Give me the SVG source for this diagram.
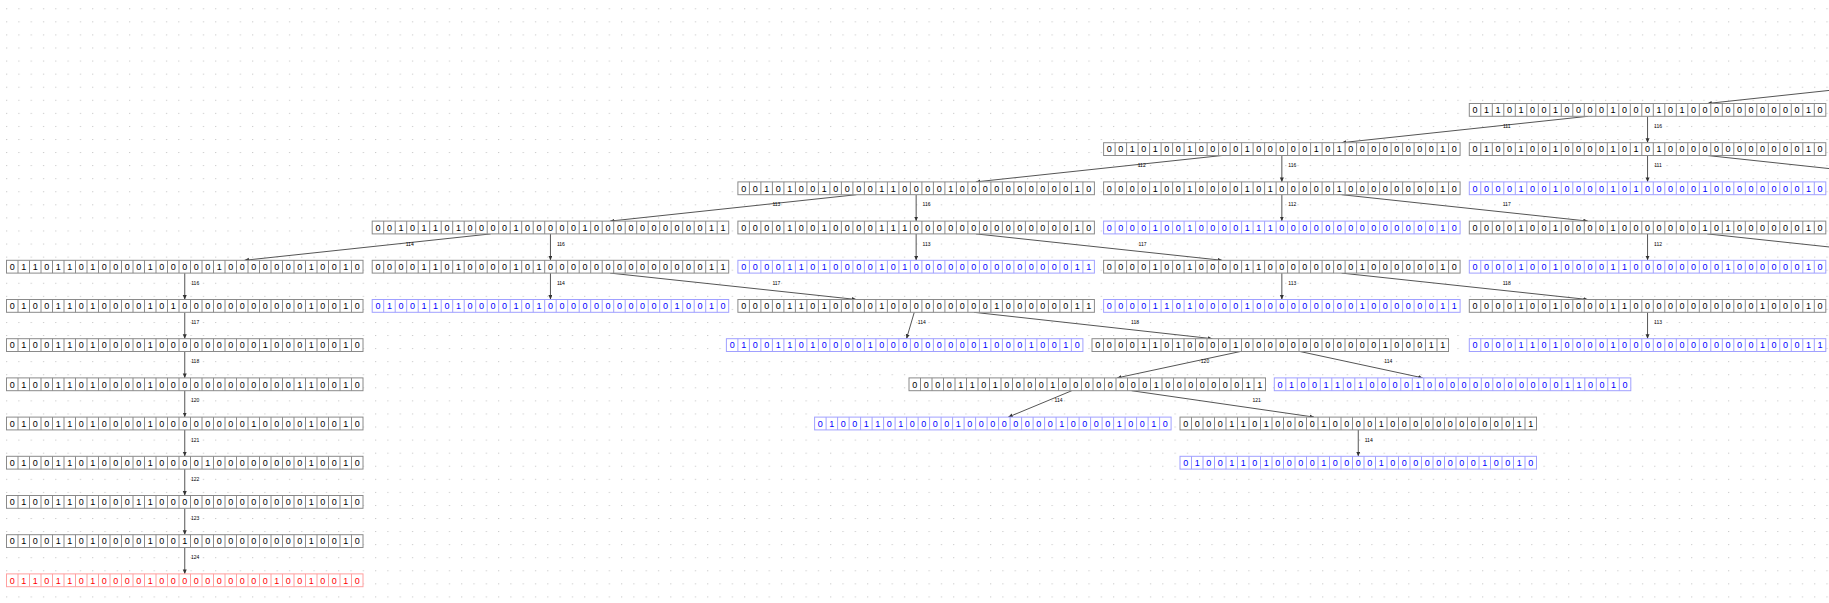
<svg xmlns="http://www.w3.org/2000/svg" xmlns:xlink="http://www.w3.org/1999/xlink" width="1829" height="603" viewBox="0 0 1829 603">
<style>
.n rect{fill:#fff;stroke-width:1}
.n use{fill:none;stroke-width:1}
.k rect,.k use{stroke:#8a8a8a}
.b rect,.b use{stroke:#a0a0ff}
.r rect,.r use{stroke:#ffa0a0}
.n text{font-family:"Liberation Sans",Arial,sans-serif;font-size:9px;text-anchor:middle}
.k text{fill:#000}.b text{fill:#0000ff}.r text{fill:#ff0000}
.e line{stroke:#555;stroke-width:1;marker-end:url(#ah)}
.l{font-family:"Liberation Sans",Arial,sans-serif;font-size:5px;text-anchor:middle;fill:#000}
</style>
<defs>
<pattern id="dots" x="6" y="8.3" width="12.3" height="13.07" patternUnits="userSpaceOnUse"><rect width="1.2" height="1" fill="#c8c8c8"/></pattern>
<path id="sep" d="M11.5 0v12.8M23 0v12.8M34.5 0v12.8M46 0v12.8M57.5 0v12.8M69 0v12.8M80.5 0v12.8M92 0v12.8M103.5 0v12.8M115 0v12.8M126.5 0v12.8M138 0v12.8M149.5 0v12.8M161 0v12.8M172.5 0v12.8M184 0v12.8M195.5 0v12.8M207 0v12.8M218.5 0v12.8M230 0v12.8M241.5 0v12.8M253 0v12.8M264.5 0v12.8M276 0v12.8M287.5 0v12.8M299 0v12.8M310.5 0v12.8M322 0v12.8M333.5 0v12.8M345 0v12.8"/>
<marker id="ah" markerUnits="userSpaceOnUse" markerWidth="6" markerHeight="5" refX="4.5" refY="2" orient="auto"><path d="M0 0L4.5 2L0 4z" fill="#333"/></marker>
</defs>
<rect width="1829" height="603" fill="#fff"/>
<rect width="1829" height="603" fill="url(#dots)"/>

<g id="edges" class="e">
<line x1="1953.54" y1="77.1" x2="1707.26" y2="103.5"/>
<line x1="1587.84" y1="116.3" x2="1341.56" y2="142.7"/>
<line x1="1647.55" y1="116.3" x2="1647.55" y2="142.7"/>
<line x1="1647.55" y1="155.5" x2="1647.55" y2="181.9"/>
<line x1="1707.26" y1="155.5" x2="1953.54" y2="181.9"/>
<line x1="1222.14" y1="155.5" x2="975.86" y2="181.9"/>
<line x1="1281.85" y1="155.5" x2="1281.85" y2="181.9"/>
<line x1="856.44" y1="194.7" x2="610.16" y2="221.1"/>
<line x1="916.15" y1="194.7" x2="916.15" y2="221.1"/>
<line x1="1281.85" y1="194.7" x2="1281.85" y2="221.1"/>
<line x1="1341.56" y1="194.7" x2="1587.84" y2="221.1"/>
<line x1="490.74" y1="233.9" x2="244.46" y2="260.3"/>
<line x1="550.45" y1="233.9" x2="550.45" y2="260.3"/>
<line x1="916.15" y1="233.9" x2="916.15" y2="260.3"/>
<line x1="975.86" y1="233.9" x2="1222.14" y2="260.3"/>
<line x1="1647.55" y1="233.9" x2="1647.55" y2="260.3"/>
<line x1="1707.26" y1="233.9" x2="1953.54" y2="260.3"/>
<line x1="184.75" y1="273.1" x2="184.75" y2="299.5"/>
<line x1="550.45" y1="273.1" x2="550.45" y2="299.5"/>
<line x1="610.16" y1="273.1" x2="856.44" y2="299.5"/>
<line x1="1281.85" y1="273.1" x2="1281.85" y2="299.5"/>
<line x1="1341.56" y1="273.1" x2="1587.84" y2="299.5"/>
<line x1="184.75" y1="312.3" x2="184.75" y2="338.7"/>
<line x1="914.27" y1="312.3" x2="906.53" y2="338.7"/>
<line x1="973.96" y1="312.3" x2="1212.44" y2="338.7"/>
<line x1="1647.55" y1="312.3" x2="1647.55" y2="338.7"/>
<line x1="184.75" y1="351.5" x2="184.75" y2="377.9"/>
<line x1="1240.37" y1="351.5" x2="1117.13" y2="377.9"/>
<line x1="1300.01" y1="351.5" x2="1422.79" y2="377.9"/>
<line x1="184.75" y1="390.7" x2="184.75" y2="417.1"/>
<line x1="1071.84" y1="390.7" x2="1008.26" y2="417.1"/>
<line x1="1131.5" y1="390.7" x2="1314" y2="417.1"/>
<line x1="184.75" y1="429.9" x2="184.75" y2="456.3"/>
<line x1="1358.25" y1="429.9" x2="1358.25" y2="456.3"/>
<line x1="184.75" y1="469.1" x2="184.75" y2="495.5"/>
<line x1="184.75" y1="508.3" x2="184.75" y2="534.7"/>
<line x1="184.75" y1="547.5" x2="184.75" y2="573.9"/>
</g>
<g id="edge-labels" class="l">
<text x="1506.7" y="128">111</text>
<text x="1658" y="128">116</text>
<text x="1658" y="167.2">111</text>
<text x="1141.7" y="167.2">112</text>
<text x="1292.3" y="167.2">116</text>
<text x="776.4" y="206.4">113</text>
<text x="926.6" y="206.4">116</text>
<text x="1292.3" y="206.4">112</text>
<text x="1506.7" y="206.4">117</text>
<text x="409.7" y="245.6">114</text>
<text x="560.9" y="245.6">116</text>
<text x="926.6" y="245.6">113</text>
<text x="1142.5" y="245.6">117</text>
<text x="1658" y="245.6">112</text>
<text x="195.2" y="284.8">116</text>
<text x="560.9" y="284.8">114</text>
<text x="776.4" y="284.8">117</text>
<text x="1292.3" y="284.8">113</text>
<text x="1506.7" y="284.8">118</text>
<text x="195.2" y="324">117</text>
<text x="921.8" y="324">114</text>
<text x="1135" y="324">118</text>
<text x="1658" y="324">113</text>
<text x="195.2" y="363.2">118</text>
<text x="1205" y="363.2">120</text>
<text x="1388.3" y="363.2">114</text>
<text x="195.2" y="402.4">120</text>
<text x="1058.6" y="402.4">114</text>
<text x="1256.7" y="402.4">121</text>
<text x="195.2" y="441.6">121</text>
<text x="1368.7" y="441.6">114</text>
<text x="195.2" y="480.8">122</text>
<text x="195.2" y="520">123</text>
<text x="195.2" y="559.2">124</text>
</g>

<g id="N0" class="n k" transform="translate(1469.3 103.5)"><rect width="356.5" height="12.8"/><use href="#sep" xlink:href="#sep"/><text y="9.7" x="5.75 17.25 28.75 40.25 51.75 63.25 74.75 86.25 97.75 109.25 120.75 132.25 143.75 155.25 166.75 178.25 189.75 201.25 212.75 224.25 235.75 247.25 258.75 270.25 281.75 293.25 304.75 316.25 327.75 339.25 350.75">0110100100001000101000000000010</text></g>
<g id="N1a" class="n k" transform="translate(1103.6 142.7)"><rect width="356.5" height="12.8"/><use href="#sep" xlink:href="#sep"/><text y="9.7" x="5.75 17.25 28.75 40.25 51.75 63.25 74.75 86.25 97.75 109.25 120.75 132.25 143.75 155.25 166.75 178.25 189.75 201.25 212.75 224.25 235.75 247.25 258.75 270.25 281.75 293.25 304.75 316.25 327.75 339.25 350.75">0010100100001000001010000000010</text></g>
<g id="N1b" class="n k" transform="translate(1469.3 142.7)"><rect width="356.5" height="12.8"/><use href="#sep" xlink:href="#sep"/><text y="9.7" x="5.75 17.25 28.75 40.25 51.75 63.25 74.75 86.25 97.75 109.25 120.75 132.25 143.75 155.25 166.75 178.25 189.75 201.25 212.75 224.25 235.75 247.25 258.75 270.25 281.75 293.25 304.75 316.25 327.75 339.25 350.75">0100100100001010100000000000010</text></g>
<g id="N2a" class="n k" transform="translate(737.9 181.9)"><rect width="356.5" height="12.8"/><use href="#sep" xlink:href="#sep"/><text y="9.7" x="5.75 17.25 28.75 40.25 51.75 63.25 74.75 86.25 97.75 109.25 120.75 132.25 143.75 155.25 166.75 178.25 189.75 201.25 212.75 224.25 235.75 247.25 258.75 270.25 281.75 293.25 304.75 316.25 327.75 339.25 350.75">0010100100001100001000000000010</text></g>
<g id="N2b" class="n k" transform="translate(1103.6 181.9)"><rect width="356.5" height="12.8"/><use href="#sep" xlink:href="#sep"/><text y="9.7" x="5.75 17.25 28.75 40.25 51.75 63.25 74.75 86.25 97.75 109.25 120.75 132.25 143.75 155.25 166.75 178.25 189.75 201.25 212.75 224.25 235.75 247.25 258.75 270.25 281.75 293.25 304.75 316.25 327.75 339.25 350.75">0000100100001010000010000000010</text></g>
<g id="N2c" class="n b" transform="translate(1469.3 181.9)"><rect width="356.5" height="12.8"/><use href="#sep" xlink:href="#sep"/><text y="9.7" x="5.75 17.25 28.75 40.25 51.75 63.25 74.75 86.25 97.75 109.25 120.75 132.25 143.75 155.25 166.75 178.25 189.75 201.25 212.75 224.25 235.75 247.25 258.75 270.25 281.75 293.25 304.75 316.25 327.75 339.25 350.75">0000100100001010000010000000010</text></g>
<g id="N3a" class="n k" transform="translate(372.2 221.1)"><rect width="356.5" height="12.8"/><use href="#sep" xlink:href="#sep"/><text y="9.7" x="5.75 17.25 28.75 40.25 51.75 63.25 74.75 86.25 97.75 109.25 120.75 132.25 143.75 155.25 166.75 178.25 189.75 201.25 212.75 224.25 235.75 247.25 258.75 270.25 281.75 293.25 304.75 316.25 327.75 339.25 350.75">0010110100001000001000000000011</text></g>
<g id="N3b" class="n k" transform="translate(737.9 221.1)"><rect width="356.5" height="12.8"/><use href="#sep" xlink:href="#sep"/><text y="9.7" x="5.75 17.25 28.75 40.25 51.75 63.25 74.75 86.25 97.75 109.25 120.75 132.25 143.75 155.25 166.75 178.25 189.75 201.25 212.75 224.25 235.75 247.25 258.75 270.25 281.75 293.25 304.75 316.25 327.75 339.25 350.75">0000100100001110000000000000010</text></g>
<g id="N3c" class="n b" transform="translate(1103.6 221.1)"><rect width="356.5" height="12.8"/><use href="#sep" xlink:href="#sep"/><text y="9.7" x="5.75 17.25 28.75 40.25 51.75 63.25 74.75 86.25 97.75 109.25 120.75 132.25 143.75 155.25 166.75 178.25 189.75 201.25 212.75 224.25 235.75 247.25 258.75 270.25 281.75 293.25 304.75 316.25 327.75 339.25 350.75">0000100100001110000000000000010</text></g>
<g id="N3d" class="n k" transform="translate(1469.3 221.1)"><rect width="356.5" height="12.8"/><use href="#sep" xlink:href="#sep"/><text y="9.7" x="5.75 17.25 28.75 40.25 51.75 63.25 74.75 86.25 97.75 109.25 120.75 132.25 143.75 155.25 166.75 178.25 189.75 201.25 212.75 224.25 235.75 247.25 258.75 270.25 281.75 293.25 304.75 316.25 327.75 339.25 350.75">0000100100001000000010100000010</text></g>
<g id="N4a" class="n k" transform="translate(6.5 260.3)"><rect width="356.5" height="12.8"/><use href="#sep" xlink:href="#sep"/><text y="9.7" x="5.75 17.25 28.75 40.25 51.75 63.25 74.75 86.25 97.75 109.25 120.75 132.25 143.75 155.25 166.75 178.25 189.75 201.25 212.75 224.25 235.75 247.25 258.75 270.25 281.75 293.25 304.75 316.25 327.75 339.25 350.75">0110110100001000001000000010010</text></g>
<g id="N4b" class="n k" transform="translate(372.2 260.3)"><rect width="356.5" height="12.8"/><use href="#sep" xlink:href="#sep"/><text y="9.7" x="5.75 17.25 28.75 40.25 51.75 63.25 74.75 86.25 97.75 109.25 120.75 132.25 143.75 155.25 166.75 178.25 189.75 201.25 212.75 224.25 235.75 247.25 258.75 270.25 281.75 293.25 304.75 316.25 327.75 339.25 350.75">0000110100001010000000000000011</text></g>
<g id="N4c" class="n b" transform="translate(737.9 260.3)"><rect width="356.5" height="12.8"/><use href="#sep" xlink:href="#sep"/><text y="9.7" x="5.75 17.25 28.75 40.25 51.75 63.25 74.75 86.25 97.75 109.25 120.75 132.25 143.75 155.25 166.75 178.25 189.75 201.25 212.75 224.25 235.75 247.25 258.75 270.25 281.75 293.25 304.75 316.25 327.75 339.25 350.75">0000110100001010000000000000011</text></g>
<g id="N4d" class="n k" transform="translate(1103.6 260.3)"><rect width="356.5" height="12.8"/><use href="#sep" xlink:href="#sep"/><text y="9.7" x="5.75 17.25 28.75 40.25 51.75 63.25 74.75 86.25 97.75 109.25 120.75 132.25 143.75 155.25 166.75 178.25 189.75 201.25 212.75 224.25 235.75 247.25 258.75 270.25 281.75 293.25 304.75 316.25 327.75 339.25 350.75">0000100100001100000000100000010</text></g>
<g id="N4e" class="n b" transform="translate(1469.3 260.3)"><rect width="356.5" height="12.8"/><use href="#sep" xlink:href="#sep"/><text y="9.7" x="5.75 17.25 28.75 40.25 51.75 63.25 74.75 86.25 97.75 109.25 120.75 132.25 143.75 155.25 166.75 178.25 189.75 201.25 212.75 224.25 235.75 247.25 258.75 270.25 281.75 293.25 304.75 316.25 327.75 339.25 350.75">0000100100001100000000100000010</text></g>
<g id="N5a" class="n k" transform="translate(6.5 299.5)"><rect width="356.5" height="12.8"/><use href="#sep" xlink:href="#sep"/><text y="9.7" x="5.75 17.25 28.75 40.25 51.75 63.25 74.75 86.25 97.75 109.25 120.75 132.25 143.75 155.25 166.75 178.25 189.75 201.25 212.75 224.25 235.75 247.25 258.75 270.25 281.75 293.25 304.75 316.25 327.75 339.25 350.75">0100110100001010000000000010010</text></g>
<g id="N5b" class="n b" transform="translate(372.2 299.5)"><rect width="356.5" height="12.8"/><use href="#sep" xlink:href="#sep"/><text y="9.7" x="5.75 17.25 28.75 40.25 51.75 63.25 74.75 86.25 97.75 109.25 120.75 132.25 143.75 155.25 166.75 178.25 189.75 201.25 212.75 224.25 235.75 247.25 258.75 270.25 281.75 293.25 304.75 316.25 327.75 339.25 350.75">0100110100001010000000000010010</text></g>
<g id="N5c" class="n k" transform="translate(737.9 299.5)"><rect width="356.5" height="12.8"/><use href="#sep" xlink:href="#sep"/><text y="9.7" x="5.75 17.25 28.75 40.25 51.75 63.25 74.75 86.25 97.75 109.25 120.75 132.25 143.75 155.25 166.75 178.25 189.75 201.25 212.75 224.25 235.75 247.25 258.75 270.25 281.75 293.25 304.75 316.25 327.75 339.25 350.75">0000110100001000000000100000011</text></g>
<g id="N5d" class="n b" transform="translate(1103.6 299.5)"><rect width="356.5" height="12.8"/><use href="#sep" xlink:href="#sep"/><text y="9.7" x="5.75 17.25 28.75 40.25 51.75 63.25 74.75 86.25 97.75 109.25 120.75 132.25 143.75 155.25 166.75 178.25 189.75 201.25 212.75 224.25 235.75 247.25 258.75 270.25 281.75 293.25 304.75 316.25 327.75 339.25 350.75">0000110100001000000000100000011</text></g>
<g id="N5e" class="n k" transform="translate(1469.3 299.5)"><rect width="356.5" height="12.8"/><use href="#sep" xlink:href="#sep"/><text y="9.7" x="5.75 17.25 28.75 40.25 51.75 63.25 74.75 86.25 97.75 109.25 120.75 132.25 143.75 155.25 166.75 178.25 189.75 201.25 212.75 224.25 235.75 247.25 258.75 270.25 281.75 293.25 304.75 316.25 327.75 339.25 350.75">0000100100001100000000000100010</text></g>
<g id="N6a" class="n k" transform="translate(6.5 338.7)"><rect width="356.5" height="12.8"/><use href="#sep" xlink:href="#sep"/><text y="9.7" x="5.75 17.25 28.75 40.25 51.75 63.25 74.75 86.25 97.75 109.25 120.75 132.25 143.75 155.25 166.75 178.25 189.75 201.25 212.75 224.25 235.75 247.25 258.75 270.25 281.75 293.25 304.75 316.25 327.75 339.25 350.75">0100110100001000000000100010010</text></g>
<g id="N6b" class="n b" transform="translate(726.4 338.7)"><rect width="356.5" height="12.8"/><use href="#sep" xlink:href="#sep"/><text y="9.7" x="5.75 17.25 28.75 40.25 51.75 63.25 74.75 86.25 97.75 109.25 120.75 132.25 143.75 155.25 166.75 178.25 189.75 201.25 212.75 224.25 235.75 247.25 258.75 270.25 281.75 293.25 304.75 316.25 327.75 339.25 350.75">0100110100001000000000100010010</text></g>
<g id="N6c" class="n k" transform="translate(1092 338.7)"><rect width="356.5" height="12.8"/><use href="#sep" xlink:href="#sep"/><text y="9.7" x="5.75 17.25 28.75 40.25 51.75 63.25 74.75 86.25 97.75 109.25 120.75 132.25 143.75 155.25 166.75 178.25 189.75 201.25 212.75 224.25 235.75 247.25 258.75 270.25 281.75 293.25 304.75 316.25 327.75 339.25 350.75">0000110100001000000000000100011</text></g>
<g id="N6d" class="n b" transform="translate(1469.3 338.7)"><rect width="356.5" height="12.8"/><use href="#sep" xlink:href="#sep"/><text y="9.7" x="5.75 17.25 28.75 40.25 51.75 63.25 74.75 86.25 97.75 109.25 120.75 132.25 143.75 155.25 166.75 178.25 189.75 201.25 212.75 224.25 235.75 247.25 258.75 270.25 281.75 293.25 304.75 316.25 327.75 339.25 350.75">0000110100001000000000000100011</text></g>
<g id="N7a" class="n k" transform="translate(6.5 377.9)"><rect width="356.5" height="12.8"/><use href="#sep" xlink:href="#sep"/><text y="9.7" x="5.75 17.25 28.75 40.25 51.75 63.25 74.75 86.25 97.75 109.25 120.75 132.25 143.75 155.25 166.75 178.25 189.75 201.25 212.75 224.25 235.75 247.25 258.75 270.25 281.75 293.25 304.75 316.25 327.75 339.25 350.75">0100110100001000000000000110010</text></g>
<g id="N7b" class="n k" transform="translate(909 377.9)"><rect width="356.5" height="12.8"/><use href="#sep" xlink:href="#sep"/><text y="9.7" x="5.75 17.25 28.75 40.25 51.75 63.25 74.75 86.25 97.75 109.25 120.75 132.25 143.75 155.25 166.75 178.25 189.75 201.25 212.75 224.25 235.75 247.25 258.75 270.25 281.75 293.25 304.75 316.25 327.75 339.25 350.75">0000110100001000000001000000011</text></g>
<g id="N7c" class="n b" transform="translate(1274.3 377.9)"><rect width="356.5" height="12.8"/><use href="#sep" xlink:href="#sep"/><text y="9.7" x="5.75 17.25 28.75 40.25 51.75 63.25 74.75 86.25 97.75 109.25 120.75 132.25 143.75 155.25 166.75 178.25 189.75 201.25 212.75 224.25 235.75 247.25 258.75 270.25 281.75 293.25 304.75 316.25 327.75 339.25 350.75">0100110100001000000000000110010</text></g>
<g id="N8a" class="n k" transform="translate(6.5 417.1)"><rect width="356.5" height="12.8"/><use href="#sep" xlink:href="#sep"/><text y="9.7" x="5.75 17.25 28.75 40.25 51.75 63.25 74.75 86.25 97.75 109.25 120.75 132.25 143.75 155.25 166.75 178.25 189.75 201.25 212.75 224.25 235.75 247.25 258.75 270.25 281.75 293.25 304.75 316.25 327.75 339.25 350.75">0100110100001000000001000010010</text></g>
<g id="N8b" class="n b" transform="translate(814.6 417.1)"><rect width="356.5" height="12.8"/><use href="#sep" xlink:href="#sep"/><text y="9.7" x="5.75 17.25 28.75 40.25 51.75 63.25 74.75 86.25 97.75 109.25 120.75 132.25 143.75 155.25 166.75 178.25 189.75 201.25 212.75 224.25 235.75 247.25 258.75 270.25 281.75 293.25 304.75 316.25 327.75 339.25 350.75">0100110100001000000001000010010</text></g>
<g id="N8c" class="n k" transform="translate(1180 417.1)"><rect width="356.5" height="12.8"/><use href="#sep" xlink:href="#sep"/><text y="9.7" x="5.75 17.25 28.75 40.25 51.75 63.25 74.75 86.25 97.75 109.25 120.75 132.25 143.75 155.25 166.75 178.25 189.75 201.25 212.75 224.25 235.75 247.25 258.75 270.25 281.75 293.25 304.75 316.25 327.75 339.25 350.75">0000110100001000010000000000011</text></g>
<g id="N9a" class="n k" transform="translate(6.5 456.3)"><rect width="356.5" height="12.8"/><use href="#sep" xlink:href="#sep"/><text y="9.7" x="5.75 17.25 28.75 40.25 51.75 63.25 74.75 86.25 97.75 109.25 120.75 132.25 143.75 155.25 166.75 178.25 189.75 201.25 212.75 224.25 235.75 247.25 258.75 270.25 281.75 293.25 304.75 316.25 327.75 339.25 350.75">0100110100001000010000000010010</text></g>
<g id="N9b" class="n b" transform="translate(1180 456.3)"><rect width="356.5" height="12.8"/><use href="#sep" xlink:href="#sep"/><text y="9.7" x="5.75 17.25 28.75 40.25 51.75 63.25 74.75 86.25 97.75 109.25 120.75 132.25 143.75 155.25 166.75 178.25 189.75 201.25 212.75 224.25 235.75 247.25 258.75 270.25 281.75 293.25 304.75 316.25 327.75 339.25 350.75">0100110100001000010000000010010</text></g>
<g id="N10a" class="n k" transform="translate(6.5 495.5)"><rect width="356.5" height="12.8"/><use href="#sep" xlink:href="#sep"/><text y="9.7" x="5.75 17.25 28.75 40.25 51.75 63.25 74.75 86.25 97.75 109.25 120.75 132.25 143.75 155.25 166.75 178.25 189.75 201.25 212.75 224.25 235.75 247.25 258.75 270.25 281.75 293.25 304.75 316.25 327.75 339.25 350.75">0100110100011000000000000010010</text></g>
<g id="N11a" class="n k" transform="translate(6.5 534.7)"><rect width="356.5" height="12.8"/><use href="#sep" xlink:href="#sep"/><text y="9.7" x="5.75 17.25 28.75 40.25 51.75 63.25 74.75 86.25 97.75 109.25 120.75 132.25 143.75 155.25 166.75 178.25 189.75 201.25 212.75 224.25 235.75 247.25 258.75 270.25 281.75 293.25 304.75 316.25 327.75 339.25 350.75">0100110100001001000000000010010</text></g>
<g id="N12a" class="n r" transform="translate(6.5 573.9)"><rect width="356.5" height="12.8"/><use href="#sep" xlink:href="#sep"/><text y="9.7" x="5.75 17.25 28.75 40.25 51.75 63.25 74.75 86.25 97.75 109.25 120.75 132.25 143.75 155.25 166.75 178.25 189.75 201.25 212.75 224.25 235.75 247.25 258.75 270.25 281.75 293.25 304.75 316.25 327.75 339.25 350.75">0110110100001000000000010010010</text></g>
</svg>
